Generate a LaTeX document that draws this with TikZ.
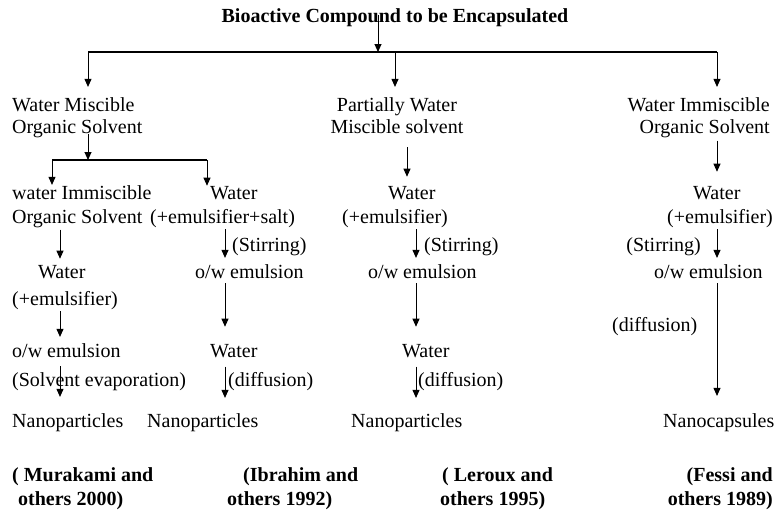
\documentclass[tikz,border=0pt]{standalone}
\usepackage{fontspec}
\setmainfont{Liberation Serif}
\usetikzlibrary{arrows.meta}

\tikzset{
  txt/.style={inner sep=0pt, anchor=base west, align=left, font=\fontsize{20}{22}\selectfont},
  cite/.style={txt, font=\fontsize{20}{24}\selectfont\bfseries},
  arr/.style={-{Triangle[length=8pt,width=7pt]}, line width=0.9pt, shorten <=2pt, shorten >=6pt},
  bar/.style={line width=1.6pt},
}

\begin{document}
\begin{tikzpicture}[x=1pt, y=-1pt]
  \useasboundingbox (0,0) rectangle (777,514);

  % junctions and column axes
  \coordinate (top) at (378,52);
  \coordinate (bl) at (88,52);
  \coordinate (bm) at (395,52);
  \coordinate (br) at (717,52);
  \coordinate (sm) at (88,160);
  \coordinate (sl) at (52,160);
  \coordinate (sr) at (207,160);
  \coordinate (c1) at (60,0);
  \coordinate (c2) at (225,0);
  \coordinate (c3a) at (407,0);
  \coordinate (c3) at (416,0);
  \coordinate (c4) at (717,0);

  \node[txt, anchor=base, font=\fontsize{20}{22}\selectfont\bfseries] (title) at (395,23) {Bioactive Compound to be Encapsulated};

  % first level (base = last line)
  \node[txt] (wmos) at (12,133) {Water Miscible\\Organic Solvent};
  \node[txt, anchor=base, align=center] (pwms) at (397,133) {Partially Water\\Miscible solvent};
  \node[txt, anchor=base east, align=right] (wios) at (770,133) {Water Immiscible\\Organic Solvent};

  % water miscible branch, left
  \node[txt] (wio) at (12,223) {water Immiscible\\[2pt]Organic Solvent};
  \node[txt] (lwat) at (12,305) {\hspace*{26pt}Water\\[5pt](+emulsifier)};
  \node[txt] (lem) at (12,357) {o/w emulsion};
  \node[txt] (lse) at (12,386) {(Solvent evaporation)};
  \node[txt] (lnp) at (12,427) {Nanoparticles};
  \node[cite] (lref) at (12,505) {( Murakami and\\\hspace*{6pt}others 2000)};

  % water miscible branch, right
  \node[txt] (wsalt) at (150,223) {\hspace*{60pt}Water\\[2pt](+emulsifier+salt)};
  \node[txt] (rstir) at (232,251) {(Stirring)};
  \node[txt] (rem) at (195,278) {o/w emulsion};
  \node[txt] (rwat) at (210,357) {Water};
  \node[txt] (rdif) at (228,386) {(diffusion)};
  \node[txt] (rnp) at (147,427) {Nanoparticles};
  \node[cite] (rref) at (227,505) {\hspace*{16pt}(Ibrahim and\\others 1992)};

  % partially water miscible
  \node[txt] (mwat) at (342,223) {\hspace*{46pt}Water\\[2pt](+emulsifier)};
  \node[txt] (mstir) at (424,251) {(Stirring)};
  \node[txt] (mem) at (368,278) {o/w emulsion};
  \node[txt] (mwat2) at (402,357) {Water};
  \node[txt] (mdif) at (418,386) {(diffusion)};
  \node[txt] (mnp) at (351,427) {Nanoparticles};
  \node[cite] (mref) at (440,505) {\hspace*{2pt}( Leroux and\\others 1995)};

  % water immiscible
  \node[txt] (fwat) at (667,223) {\hspace*{26pt}Water\\[2pt](+emulsifier)};
  \node[txt, anchor=base east] (fstir) at (701,251) {(Stirring)};
  \node[txt] (fem) at (654,278) {o/w emulsion};
  \node[txt] (fdif) at (612,331) {(diffusion)};
  \node[txt] (fnc) at (663,427) {Nanocapsules};
  \node[cite, anchor=base east, align=right] (fref) at (773,505) {(Fessi and\\others 1989)};

  % top split
  \draw[arr, shorten <=-8pt, shorten >=0pt] (top |- title.base) -- (top);
  \draw[bar] (bl) -- (br);
  \draw[arr, shorten <=0pt, shorten >=10pt] (bl) -- (bl |- wmos.north);
  \draw[arr, shorten <=0pt, shorten >=10pt] (bm) -- (bm |- pwms.north);
  \draw[arr, shorten <=0pt, shorten >=10pt] (br) -- (br |- wios.north);

  % left split
  \draw[arr, shorten <=-4pt, shorten >=0pt] (sm |- wmos.south) -- (sm);
  \draw[bar] (sl) -- (sr);
  \draw[arr, shorten <=0pt, shorten >=0pt] (sl) -- (sl |- wio.north);
  \draw[arr, shorten <=0pt, shorten >=0pt] (sr) -- (sr |- wsalt.north);

  \draw[arr] (c1 |- wio.south) -- (c1 |- lwat.north);
  \draw[arr] (c1 |- lwat.south) -- (c1 |- lem.north);
  \draw[arr, shorten <=9pt, shorten >=16pt] (c1 |- lem.south) -- (c1 |- lnp.north);

  \draw[arr] (c2 |- wsalt.south) -- (c2 |- rem.north);
  \draw[arr, shorten <=5pt, shorten >=17pt] (c2 |- rem.south) -- (c2 |- rwat.north);
  \draw[arr, shorten <=9pt, shorten >=15pt] (c2 |- rwat.south) -- (c2 |- rnp.north);

  \draw[arr, shorten <=14pt, shorten >=9pt] (c3a |- pwms.south) -- (c3a |- mwat.north);
  \draw[arr] (c3 |- mwat.south) -- (c3 |- mem.north);
  \draw[arr, shorten <=5pt, shorten >=17pt] (c3 |- mem.south) -- (c3 |- mwat2.north);
  \draw[arr, shorten <=9pt, shorten >=15pt] (c3 |- mwat2.south) -- (c3 |- mnp.north);

  \draw[arr, shorten <=3pt, shorten >=14pt] (c4 |- wios.south) -- (c4 |- fwat.north);
  \draw[arr] (c4 |- fwat.south) -- (c4 |- fem.north);
  \draw[arr, shorten <=5pt, shorten >=17pt] (c4 |- fem.south) -- (c4 |- fnc.north);
\end{tikzpicture}
\end{document}
